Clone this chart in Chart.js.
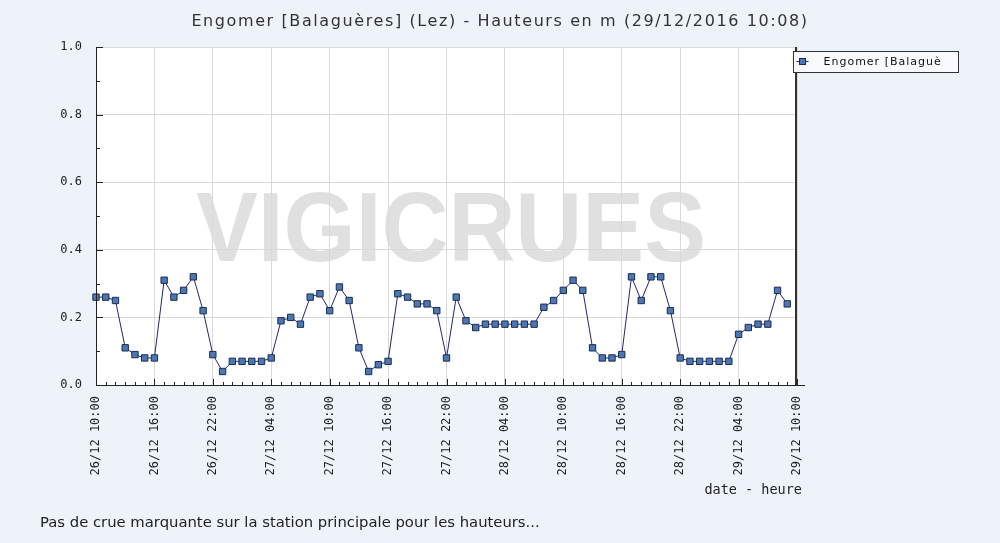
<!DOCTYPE html>
<html lang="fr">
<head>
<meta charset="UTF-8">
<title>Engomer [Balaguères] (Lez) - Hauteurs</title>
<script src="https://cdn.jsdelivr.net/npm/chart.js"></script>
<style>
    body {
        margin: 0;
        background-color: #eef3f9;
        font-family: 'DejaVu Sans', sans-serif;
    }

    .wrap {
        position: relative;
        width: 1000px;
        height: 543px;
    }

    .titre {
        position: absolute;
        top: 11px;
        left: 0;
        width: 1000px;
        text-align: center;
        font-size: 16px;
        letter-spacing: 1.6px;
        color: #333;
    }

    .pied {
        position: absolute;
        left: 40px;
        top: 513px;
        font-size: 14.8px;
        color: #222;
    }
</style>
</head>

<body>
<div class="wrap">
    <canvas id="hauteurChart" width="1000" height="543"></canvas>
    <div class="titre">Engomer [Balaguères] (Lez) - Hauteurs en m (29/12/2016 10:08)</div>
    <div class="pied">Pas de crue marquante sur la station principale pour les hauteurs...</div>
</div>

<script>
    // Graduations de l'axe des temps (toutes les 6 heures)
    const timeLabels = ['26/12 10:00', '26/12 16:00', '26/12 22:00', '27/12 04:00', '27/12 10:00',
        '27/12 16:00', '27/12 22:00', '28/12 04:00', '28/12 10:00', '28/12 16:00',
        '28/12 22:00', '29/12 04:00', '29/12 10:00'];

    // Hauteurs horaires en m, à partir du 26/12 10:00
    const hauteurs = [
        0.26, 0.26, 0.25, 0.11, 0.09, 0.08, 0.08, 0.31, 0.26, 0.28,
        0.32, 0.22, 0.09, 0.04, 0.07, 0.07, 0.07, 0.07, 0.08, 0.19,
        0.20, 0.18, 0.26, 0.27, 0.22, 0.29, 0.25, 0.11, 0.04, 0.06,
        0.07, 0.27, 0.26, 0.24, 0.24, 0.22, 0.08, 0.26, 0.19, 0.17,
        0.18, 0.18, 0.18, 0.18, 0.18, 0.18, 0.23, 0.25, 0.28, 0.31,
        0.28, 0.11, 0.08, 0.08, 0.09, 0.32, 0.25, 0.32, 0.32, 0.22,
        0.08, 0.07, 0.07, 0.07, 0.07, 0.07, 0.15, 0.17, 0.18, 0.18,
        0.28, 0.24
    ];

    const serieNom = 'Engomer [Balaguè';
    const heuresTotal = 72;
    const pasHeures = 6;

    const lineColor = '#26266e';
    const pointFill = '#4a78b2';
    const pointEdge = '#1c2b52';

    // fond blanc + filigrane, axes et légende dessinés à la main
    const cadre = {
        id: 'cadre',
        beforeDraw(chart) {
            const { ctx, chartArea: a } = chart;
            ctx.save();
            ctx.fillStyle = '#ffffff';
            ctx.fillRect(a.left, a.top, a.right - a.left, a.bottom - a.top);

            ctx.font = 'bold 98px "Liberation Sans"';
            ctx.fillStyle = '#e0e0e0';
            ctx.textAlign = 'center';
            ctx.textBaseline = 'alphabetic';
            const w = ctx.measureText('VIGICRUES').width;
            ctx.translate(451, 261);
            ctx.scale(510 / w, 1);
            ctx.fillText('VIGICRUES', 0, 0);
            ctx.restore();
        },
        afterDraw(chart) {
            const { ctx, chartArea: a, scales } = chart;
            const x = scales.x, y = scales.y;
            ctx.save();
            ctx.strokeStyle = '#222';
            ctx.lineWidth = 1;
            ctx.beginPath();
            ctx.moveTo(a.left + 0.5, a.top);
            ctx.lineTo(a.left + 0.5, a.bottom + 0.5);
            ctx.lineTo(a.right + 8, a.bottom + 0.5);
            // graduations x (1 h), grandes toutes les 6 h
            for (let h = 0; h <= heuresTotal; h++) {
                const px = Math.round(x.getPixelForValue(h)) + 0.5;
                const len = h % pasHeures === 0 ? 6 : 3;
                ctx.moveTo(px, a.bottom);
                ctx.lineTo(px, a.bottom - len);
            }
            // graduations y (0.1), grandes toutes les 0.2
            for (let k = 0; k <= 10; k++) {
                const py = Math.round(y.getPixelForValue(k / 10)) + 0.5;
                const len = k % 2 === 0 ? 7 : 4;
                ctx.moveTo(a.left, py);
                ctx.lineTo(a.left + len, py);
            }
            ctx.stroke();

            ctx.strokeStyle = '#333';
            ctx.lineWidth = 2;
            ctx.beginPath();
            ctx.moveTo(a.right - 1, a.top);
            ctx.lineTo(a.right - 1, a.bottom);
            ctx.stroke();

            // titre de l'axe x
            ctx.fillStyle = '#222';
            ctx.font = '13.5px "DejaVu Sans Mono"';
            ctx.textAlign = 'right';
            ctx.textBaseline = 'middle';
            ctx.fillText('date - heure', a.right + 5, 490);

            // légende
            const lx = 793.5, ly = 51.5;
            ctx.fillStyle = '#f8fafd';
            ctx.fillRect(lx, ly, 165, 21);
            ctx.strokeStyle = '#333';
            ctx.lineWidth = 1;
            ctx.strokeRect(lx, ly, 165, 21);
            ctx.strokeStyle = lineColor;
            ctx.beginPath();
            ctx.moveTo(lx + 3, ly + 10);
            ctx.lineTo(lx + 15, ly + 10);
            ctx.stroke();
            ctx.fillStyle = pointFill;
            ctx.strokeStyle = pointEdge;
            ctx.fillRect(lx + 6, ly + 7, 6, 6);
            ctx.strokeRect(lx + 6, ly + 7, 6, 6);
            ctx.fillStyle = '#111';
            ctx.font = '11px "DejaVu Sans"';
            ctx.letterSpacing = '1px';
            ctx.textAlign = 'left';
            ctx.fillText(serieNom, lx + 30, ly + 11);
            ctx.restore();
        }
    };

    const ctxH = document.getElementById('hauteurChart').getContext('2d');
    new Chart(ctxH, {
        type: 'line',
        data: {
            datasets: [{
                label: serieNom,
                data: hauteurs.map((h, i) => ({ x: i, y: h })),
                borderColor: lineColor,
                borderWidth: 1,
                pointStyle: 'rect',
                pointRadius: 4.5,
                pointBackgroundColor: pointFill,
                pointBorderColor: pointEdge,
                pointBorderWidth: 1,
                tension: 0,
                clip: 8
            }]
        },
        options: {
            responsive: false,
            animation: false,
            devicePixelRatio: 1,
            layout: { padding: { top: 47, left: 0, right: 0, bottom: 0 } },
            plugins: {
                legend: { display: false },
                title: { display: false },
                tooltip: { enabled: false }
            },
            scales: {
                x: {
                    type: 'linear',
                    min: 0,
                    max: heuresTotal,
                    afterFit: s => { s.height = 158; },
                    ticks: {
                        stepSize: pasHeures,
                        autoSkip: false,
                        minRotation: 90,
                        maxRotation: 90,
                        padding: 11,
                        color: '#222',
                        font: { family: 'DejaVu Sans Mono', size: 12 },
                        callback: v => timeLabels[v / pasHeures]
                    },
                    grid: { color: '#d9d9d9', drawTicks: false },
                    border: { display: false }
                },
                y: {
                    min: 0,
                    max: 1,
                    afterFit: s => { s.width = 96; },
                    ticks: {
                        stepSize: 0.2,
                        padding: 14,
                        color: '#222',
                        font: { family: 'DejaVu Sans Mono', size: 12 },
                        callback: v => v.toFixed(1)
                    },
                    grid: { color: '#d9d9d9', drawTicks: false },
                    border: { display: false }
                },
                y2: {
                    position: 'right',
                    display: true,
                    afterFit: s => { s.width = 203; },
                    ticks: { display: false },
                    grid: { display: false },
                    border: { display: false }
                }
            }
        },
        plugins: [cadre]
    });
</script>
</body>
</html>
